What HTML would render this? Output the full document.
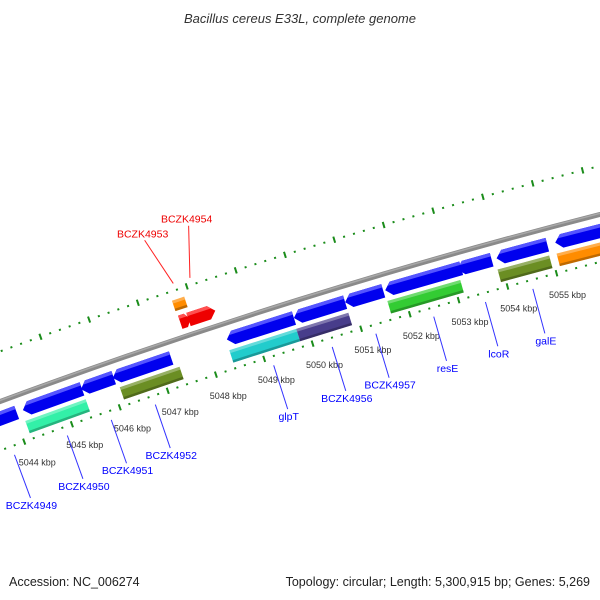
<!DOCTYPE html>
<html><head><meta charset="utf-8"><style>
html,body{margin:0;padding:0;background:#fff;}
svg{display:block;font-family:"Liberation Sans","DejaVu Sans",sans-serif;}
</style></head><body>
<svg id="map" width="600" height="600" viewBox="0 0 600 600" xmlns="http://www.w3.org/2000/svg">
<rect x="0" y="0" width="600" height="600" fill="#fff"/>
<text x="300" y="23" text-anchor="middle" font-size="13" font-style="italic" fill="#333">Bacillus cereus E33L, complete genome</text>
<g id="layer"></g>
<text x="9" y="586" font-size="12.5" fill="#222">Accession: NC_006274</text>
<text x="590" y="586" text-anchor="end" font-size="12.5" fill="#222">Topology: circular; Length: 5,300,915 bp; Genes: 5,269</text>
</svg>
<script>
// ---- data (kbp) ----
const reverseGeneStarts = [5042.4, 5044.19, 5045.40, 5046.06, 5048.42, 5049.80, 5050.85, 5051.67, 5053.14, 5053.94, 5055.13];
const reverseGeneEnds   = [5044.06, 5045.42, 5046.08, 5047.27, 5049.80, 5050.85, 5051.63, 5053.22, 5053.84, 5054.97, 5056.8];
const forwardGeneStarts = [5047.66, 5047.83];
const forwardGeneEnds   = [5047.87, 5048.38];
const cogInnerStarts = [5044.16, 5046.13, 5048.40, 5049.78, 5051.65, 5053.90, 5055.10];
const cogInnerEnds   = [5045.42, 5047.37, 5049.78, 5050.85, 5053.14, 5054.95, 5057.0];
const cogInnerColors = ["#33f0a8", "#6b8e23", "#22cccc", "#483d8b", "#33cc33", "#6b8e23", "#ff8c00"];
const cogOuterStarts = [5047.64];
const cogOuterEnds   = [5047.89];
const cogOuterColors = ["#ff8c00"];
const innerLabels = ["BCZK4949", "BCZK4950", "BCZK4951", "BCZK4952", "glpT", "BCZK4956", "BCZK4957", "resE", "lcoR", "galE"];
const innerLabelKbp = [5043.73, 5044.84, 5045.76, 5046.68, 5049.14, 5050.35, 5051.25, 5052.44, 5053.50, 5054.47];
const outerLabels = ["BCZK4953", "BCZK4954"];
const outerLabelKbp = [5047.77, 5048.11];
const outerLabelEndKbp = [5047.51, 5048.40];
const tickStart = 5038;
const tickEnd = 5062;
const tickLabelKbp = [5044, 5045, 5046, 5047, 5048, 5049, 5050, 5051, 5052, 5053, 5054, 5055];

// ---- geometry ----
const cx = 2084, cy = 6028, R = 6000;
function ang(k){ return (-20.24 + (k - 5044) * 0.4886) * Math.PI / 180; }
function P(k, r){ const a = ang(k); return [cx + r * Math.sin(a), cy - r * Math.cos(a)]; }
const NS = "http://www.w3.org/2000/svg";
const layer = document.getElementById("layer");
function mk(tag, attrs){ const e = document.createElementNS(NS, tag); for (const k in attrs) e.setAttribute(k, attrs[k]); layer.appendChild(e); return e; }
function pts(list){ return list.map(p => p[0].toFixed(2) + "," + p[1].toFixed(2)).join(" "); }
function band(k1, k2, r1, r2){ return [P(k1, r2), P(k2, r2), P(k2, r1), P(k1, r1)]; }

// backbone
const b1 = P(5035, R), b2 = P(5065, R);
let bb = mk("path", {d: `M${b1[0]},${b1[1]} A${R},${R} 0 0 1 ${b2[0]},${b2[1]}`, stroke: "#8a8a8a", "stroke-width": 5, fill: "none"});


let bbh = mk("path", {d: `M${P(5035,R+1)[0]},${P(5035,R+1)[1]} A${R+1},${R+1} 0 0 1 ${P(5065,R+1)[0]},${P(5065,R+1)[1]}`, stroke: "#a8a8a8", "stroke-width": 1.5, fill: "none"});



// rulers
[[6047, "outer"], [5954, "inner"]].forEach(([rr, nm]) => {
  for (let i = 0; tickStart + i * 0.2 <= tickEnd; i++) {
    const k = tickStart + i * 0.2;
    const major = i % 5 === 0;
    const h = major ? 3.2 : 1;
    const p1 = P(k, rr - h), p2 = P(k, rr + h);
    const t = mk("line", {x1: p1[0], y1: p1[1], x2: p2[0], y2: p2[1], stroke: "#1a8c1a", "stroke-width": major ? 2 : 2});
    
    
  }
});
tickLabelKbp.forEach(k => {
  const p = P(k + 0.1, 5930);
  const t = mk("text", {x: p[0], y: p[1] + 3, "text-anchor": "middle", "font-size": 9, fill: "#333"});
  t.textContent = k + " kbp";
  
  
});

// reverse genes (left pointing arrows)
reverseGeneStarts.forEach((s, i) => {
  const e = reverseGeneEnds[i], r1 = 5977, r2 = 5991, rm = (r1 + r2) / 2;
  const head = Math.min(0.13, (e - s) * 0.4);
  const poly = [P(s, rm), P(s + head, r2), P(e, r2), P(e, r1), P(s + head, r1)];
  const g = mk("polygon", {points: pts(poly), fill: "#0000ee"});
  
  
  const hl = mk("polygon", {points: pts([P(s + head * 0.5, r2 - 3.5), P(s + head, r2), P(e, r2), P(e, r2 - 3.5)]), fill: "#5555ff"});
  
  
});

// forward genes (right pointing red arrows)
forwardGeneStarts.forEach((s, i) => {
  const e = forwardGeneEnds[i], r1 = 6008, r2 = 6022, rm = (r1 + r2) / 2;
  const head = Math.min(0.13, (e - s) * 0.45);
  const poly = [P(s, r1), P(s, r2), P(e - head, r2), P(e, rm), P(e - head, r1)];
  const g = mk("polygon", {points: pts(poly), fill: "#ee0000"});
  
  
  const hl = mk("polygon", {points: pts([P(s, r2 - 3.5), P(s, r2), P(e - head, r2), P(e - head * 0.5, r2 - 3.5)]), fill: "#ff5050"});
  
  
});

// COG boxes
function cogBox(s, e, r1, r2, col, nm){
  const g = mk("polygon", {points: pts(band(s, e, r1, r2)), fill: col});
  
  
  const top = mk("polygon", {points: pts(band(s, e, r2 - 3, r2)), fill: "#ffffff", "fill-opacity": 0.3});
  
  
  const bot = mk("polygon", {points: pts(band(s, e, r1, r1 + 2.5)), fill: "#000000", "fill-opacity": 0.25});
  
  
}
cogInnerStarts.forEach((s, i) => cogBox(s, cogInnerEnds[i], 5960, 5973, cogInnerColors[i], 'cog-reverse-box'));
cogOuterStarts.forEach((s, i) => cogBox(s, cogOuterEnds[i], 6027, 6038, cogOuterColors[i], 'cog-forward-box'));

// inner labels
innerLabels.forEach((lab, i) => {
  const k = innerLabelKbp[i];
  const a = P(k, 5945), b = P(k, 5899);
  const l = mk("line", {x1: a[0], y1: a[1], x2: b[0], y2: b[1], stroke: "#3333ff", "stroke-width": 1});
  
  
  const t = mk("text", {x: b[0] + 1, y: b[1] + 11, "text-anchor": "middle", "font-size": 10.5, fill: "#0000ff"});
  t.textContent = lab;
  
  
});
// outer labels
outerLabels.forEach((lab, i) => {
  const a = P(outerLabelKbp[i], 6054), b = P(outerLabelEndKbp[i], 6104);
  const l = mk("line", {x1: a[0], y1: a[1], x2: b[0], y2: b[1], stroke: "#ff2222", "stroke-width": 1});
  
  
  const t = mk("text", {x: b[0] - 2, y: b[1] - 3, "text-anchor": "middle", "font-size": 10.5, fill: "#ee0000"});
  t.textContent = lab;
  
  
});
</script>
</body></html>
